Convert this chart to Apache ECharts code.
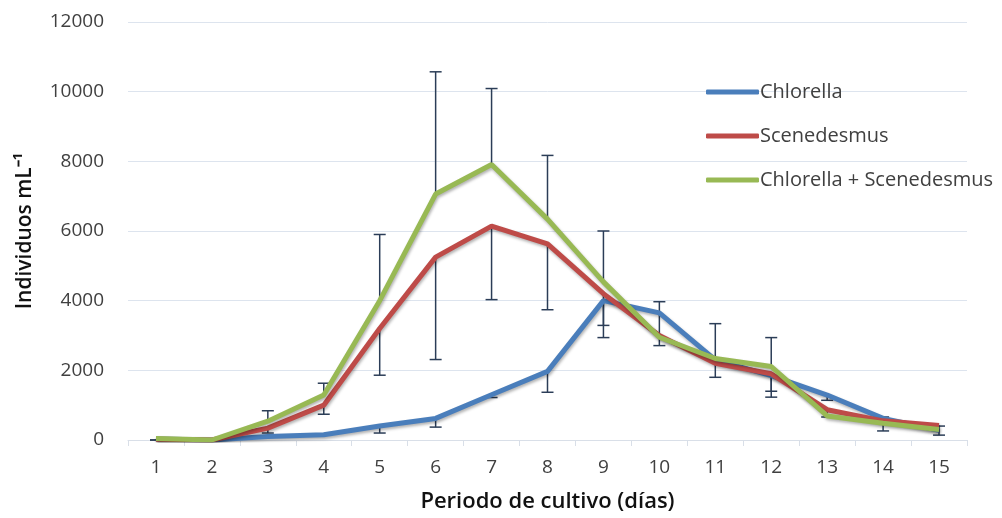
<!DOCTYPE html>
<html>
<head>
<meta charset="utf-8">
<script src="https://cdn.jsdelivr.net/npm/echarts@6/dist/echarts.min.js"></script>
<style>
  html, body { margin: 0; padding: 0; background: #fff; }
  #chart { width: 1002px; height: 518px; }
</style>
</head>
<body>
<div id="chart"></div>
<script>
// dias de cultivo
const dias = ['1', '2', '3', '4', '5', '6', '7', '8', '9', '10', '11', '12', '13', '14', '15'];
const seriesNames = ['Chlorella', 'Scenedesmus', 'Chlorella + Scenedesmus'];

// individuos por mL
const chlorella = [30, 0, 100, 150, 400, 620, 1300, 1970, 4000, 3650, 2300, 1850, 1290, 620, 280];
const scenedesmus = [20, 0, 340, 1000, 3200, 5250, 6140, 5630, 4200, 3000, 2200, 1900, 870, 550, 420];
const mezcla = [40, 0, 540, 1290, 4000, 7060, 7910, 6340, 4540, 2950, 2340, 2110, 690, 480, 300];

// barras de error (solo un lado por serie)
const chlorellaMinus = [30, 0, 0, 0, 200, 250, 80, 600, 710, 0, 0, 620, 150, 0, 0];
const scenedesmusMinus = [20, 0, 140, 260, 1340, 2940, 2110, 1890, 1260, 290, 400, 500, 210, 290, 280];
const mezclaPlus = [0, 0, 300, 340, 1900, 3510, 2180, 1830, 1460, 1020, 1000, 830, 0, 180, 100];

const yTicks = [0, 2000, 4000, 6000, 8000, 10000, 12000];

const colors = ['#4a7ebb', '#be4b48', '#98b954'];

function errData(values, amounts, sign) {
  const out = [];
  values.forEach((v, i) => {
    if (amounts[i] > 0) out.push([i, v, v + sign * amounts[i]]);
  });
  return out;
}

function renderErr(params, api) {
  const start = api.coord([api.value(0), api.value(1)]);
  const end = api.coord([api.value(0), api.value(2)]);
  const half = 6;
  const style = { stroke: '#2b3d57', lineWidth: 1.5 };
  return {
    type: 'group',
    children: [
      { type: 'line', shape: { x1: start[0], y1: start[1], x2: end[0], y2: end[1] }, style: style },
      { type: 'line', shape: { x1: end[0] - half, y1: end[1], x2: end[0] + half, y2: end[1] }, style: style }
    ]
  };
}

function lineSeries(name, data, color) {
  return {
    name: name,
    type: 'line',
    data: data,
    symbol: 'none',
    z: 3,
    itemStyle: { color: color },
    lineStyle: {
      color: color,
      width: 5,
      shadowColor: 'rgba(0,0,0,0.3)',
      shadowBlur: 3,
      shadowOffsetX: 1,
      shadowOffsetY: 2
    }
  };
}

function errSeries(data) {
  return {
    type: 'custom',
    renderItem: renderErr,
    data: data,
    encode: { x: 0, y: [1, 2] },
    z: 2,
    silent: true
  };
}

const chart = echarts.init(document.getElementById('chart'));

const option = {
  animation: false,
  backgroundColor: '#fff',
  textStyle: { fontFamily: 'Open Sans' },
  grid: { left: 128, right: 35, top: 22, height: 420 },
  legend: {
    data: seriesNames,
    orient: 'vertical',
    left: 701,
    top: 77,
    itemGap: 24,
    itemWidth: 53,
    itemHeight: 5,
    icon: 'roundRect',
    textStyle: { fontSize: 20, color: '#404040', fontFamily: 'Open Sans', padding: [0, 0, 0, -4] }
  },
  xAxis: {
    type: 'category',
    data: dias,
    boundaryGap: true,
    name: 'Periodo de cultivo (días)',
    nameLocation: 'middle',
    nameGap: 51,
    nameTextStyle: { fontSize: 22, fontWeight: 600, color: '#111', fontFamily: 'Open Sans' },
    axisLine: { lineStyle: { color: '#d9dfe8', width: 1 } },
    axisTick: { show: true, length: 6, lineStyle: { color: '#d9dfe8' } },
    axisLabel: { fontSize: 19, color: '#404040', margin: 18 }
  },
  yAxis: {
    type: 'value',
    min: yTicks[0],
    max: yTicks[yTicks.length - 1],
    interval: yTicks[1] - yTicks[0],
    name: 'Individuos mL⁻¹',
    nameLocation: 'middle',
    nameRotate: 90,
    nameGap: 92,
    nameTextStyle: { fontSize: 21, fontWeight: 600, color: '#111', fontFamily: 'Open Sans' },
    axisLine: { show: false },
    axisTick: { show: false },
    axisLabel: { fontSize: 19, color: '#404040', margin: 24, formatter: (v) => String(v) },
    splitLine: { lineStyle: { color: '#dde4ee', width: 1 } }
  },
  series: [
    errSeries(errData(chlorella, chlorellaMinus, -1)),
    errSeries(errData(scenedesmus, scenedesmusMinus, -1)),
    errSeries(errData(mezcla, mezclaPlus, 1)),
    lineSeries(seriesNames[0], chlorella, colors[0]),
    lineSeries(seriesNames[1], scenedesmus, colors[1]),
    lineSeries(seriesNames[2], mezcla, colors[2])
  ]
};

chart.setOption(option);
</script>
</body>
</html>
